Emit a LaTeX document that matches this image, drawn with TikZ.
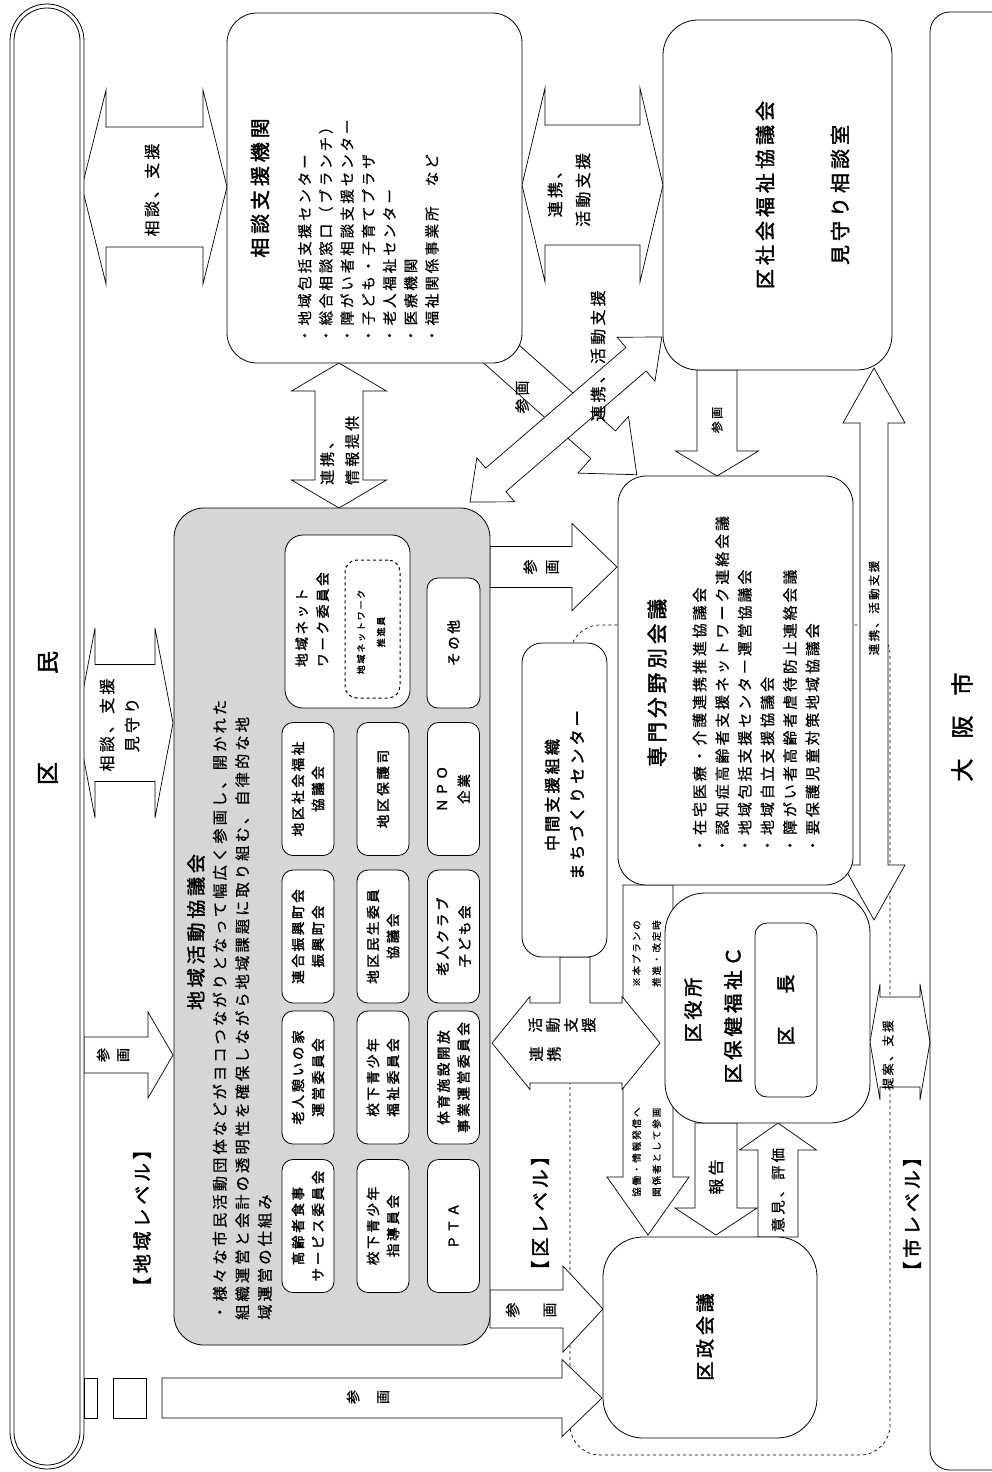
\documentclass[tikz,border=0pt]{standalone}
\usepackage{fontspec}
\usepackage{graphicx}
\setmainfont{Noto Sans CJK JP}[LetterSpace=20,FakeBold=0.6]
\newfontfamily\jb{Noto Sans CJK JP}[FakeBold=2,LetterSpace=20]
\newcommand\fsz[2]{\fontsize{#1}{#2}\selectfont}
\newcommand\rc[1]{\rotatebox[origin=c]{90}{#1}}
% double-headed horizontal arrow: x1 x2 yc shaft-half head-half head-length
\newcommand\DAH[6]{\draw[blk] (#1,#3) -- ({#1+#6},{#3-#5}) -- ({#1+#6},{#3-#4}) -- ({#2-#6},{#3-#4}) -- ({#2-#6},{#3-#5}) -- (#2,#3) -- ({#2-#6},{#3+#5}) -- ({#2-#6},{#3+#4}) -- ({#1+#6},{#3+#4}) -- ({#1+#6},{#3+#5}) -- cycle;}
% double-headed vertical arrow: y1 y2 xc sw hw hl
\newcommand\DAV[6]{\draw[blk] (#3,#1) -- ({#3+#5},{#1+#6}) -- ({#3+#4},{#1+#6}) -- ({#3+#4},{#2-#6}) -- ({#3+#5},{#2-#6}) -- (#3,#2) -- ({#3-#5},{#2-#6}) -- ({#3-#4},{#2-#6}) -- ({#3-#4},{#1+#6}) -- ({#3-#5},{#1+#6}) -- cycle;}
% single arrow to the right: xtail xtip yc sw hw hl
\newcommand\SAR[6]{\draw[blk] (#1,{#3-#4}) -- ({#2-#6},{#3-#4}) -- ({#2-#6},{#3-#5}) -- (#2,#3) -- ({#2-#6},{#3+#5}) -- ({#2-#6},{#3+#4}) -- (#1,{#3+#4}) -- cycle;}
% single arrow downwards: ytail ytip xc sw hw hl
\newcommand\SAD[6]{\draw[blk] ({#3-#4},#1) -- ({#3-#4},{#2-#6}) -- ({#3-#5},{#2-#6}) -- (#3,#2) -- ({#3+#5},{#2-#6}) -- ({#3+#4},{#2-#6}) -- ({#3+#4},#1) -- cycle;}
% single arrow upwards: ytail ytip xc sw hw hl
\newcommand\SAU[6]{\draw[blk] ({#3-#4},#1) -- ({#3-#4},{#2+#6}) -- ({#3-#5},{#2+#6}) -- (#3,#2) -- ({#3+#5},{#2+#6}) -- ({#3+#4},{#2+#6}) -- ({#3+#4},#1) -- cycle;}
\begin{document}
\begin{tikzpicture}[x=1pt,y=-1pt,
  box/.style={draw, line width=0.8pt, fill=white, rounded corners=#1, inner sep=0pt},
  blk/.style={draw, line width=0.7pt, fill=white, line join=miter},
  rt/.style={rotate=90, inner sep=0pt},
  sbox/.style={box=11, minimum width=52, minimum height=133},
  sbt/.style={rt, align=center, font=\jb\fsz{13.5}{20}},
  lbl/.style={rt, align=center},
]
\useasboundingbox (0,0) rectangle (992,1472);
\fill[white] (0,0) rectangle (992,1472);

% dashed ward-level region
\draw[dashed, line width=0.7pt, rounded corners=30] (570,625) rectangle (890,1455);

% ---------- block arrows ----------
\DAH{82}{227}{187}{60}{97}{24}          % 相談、支援
\DAH{522}{663}{185}{60}{97}{23}         % 連携、活動支援
\DAV{363}{508}{339}{24}{47.5}{28}       % 連携、情報提供
\SAD{370}{476}{717}{20}{41.5}{25}       % 参画 (社協->専門)
\DAV{368}{920}{874}{14}{31}{55}         % 連携、活動支援 (市)
\DAH{77}{173}{723}{58.5}{95}{18}        % 相談、支援 見守り
\SAR{84}{173}{1055}{18}{43}{25}         % 参画
\SAR{162}{602}{1398}{20}{38.5}{40}      % 参画 (区民->区政会議)
\SAR{490}{617}{567}{20.5}{43.5}{45}     % 参画 (地域->専門)
\SAR{490}{603}{1309}{19}{43}{40}        % 参画 (地域->区政会議)
\begin{scope}[shift={(480,335)}, rotate=-41.7]
  \SAR{0}{210}{0}{18.5}{38}{45}
\end{scope}
\begin{scope}[shift={(470,502)}, rotate=40.7]
  \DAH{0}{253}{0}{15.5}{29}{34}
\end{scope}
\SAD{885}{1235}{648}{25}{41}{58}        % 本プラン
\SAD{1123}{1235}{716}{21}{41}{27}       % 報告
\SAU{1237}{1123}{778}{20}{38.5}{27}     % 意見、評価
% T-shaped arrow from 中間支援組織
\draw[blk] (492,1043) -- (530,996.5) -- (530,1003) -- (560,1003) -- (560,957) -- (590,957) -- (590,1003) -- (622,1003) -- (622,996.5) -- (660,1043) -- (622,1089.5) -- (622,1083) -- (530,1083) -- (530,1089.5) -- cycle;
\DAH{870}{930}{1042}{45}{58}{10}        % 提案、支援

% ---------- boxes ----------
\node[box=30, minimum width=295, minimum height=350] (soudan) at (374.5,188) {};
\node[box=35, minimum width=229, minimum height=350] (shakyo) at (777.5,195) {};
\node[box=30, minimum width=316, minimum height=837, fill=black!16] (chiiki) at (332,926.5) {};
\node[box=28, minimum width=235, minimum height=409] (senmon) at (735.5,680.5) {};
\node[box=20, minimum width=85, minimum height=314] (chukan) at (564.5,800) {};
\node[box=40, minimum width=205, minimum height=230] (kuyaku) at (767.5,1008) {};
\node[box=12, minimum width=62, minimum height=174] (kucho) at (786,1010) {};
\node[box=40, minimum width=214, minimum height=201] (kusei) at (710,1337.5) {};

% 区民 bar (double line)
\draw[line width=0.8pt, fill=white, rounded corners=37] (10,4) rectangle (84,1469);
\draw[line width=0.8pt, rounded corners=33] (14,8) rectangle (80,1465);
\draw[line width=0.7pt, fill=white] (84,1378) rectangle (97,1418);
\draw[line width=0.7pt, fill=white] (113,1378) rectangle (146,1418);
% 大阪市 bar
\draw[line width=0.8pt, rounded corners=20] (992,12) -- (930,12) -- (930,1470) -- (992,1470);

% inner boxes of 地域活動協議会
\node[box=18, minimum width=125, minimum height=173] (net) at (347.5,621.5) {};
\node[box=12, dashed, line width=1pt, minimum width=55, minimum height=138] (netp) at (372.5,629) {};
\node[box=11, minimum width=53, minimum height=130] (sonota) at (453.5,643) {};
\foreach \c/\nm in {308/a, 383/b, 453.5/c}{
  \foreach \r/\rn in {789/2, 936.5/3, 1077.5/4, 1226/5}{
    \node[sbox] (s\nm\rn) at (\c,\r) {};
  }
}

% ---------- texts ----------
\node[rt, font=\jb\fsz{23}{26}] (kumint) at (48,718) {区\hspace{88pt}民};
\node[rt, font=\jb\fsz{23}{26}] (osakat) at (962,727) {大\hspace{20pt}阪\hspace{20pt}市};

\node[rt, font=\jb\fsz{19.9}{24}] at (260,188) {相談支援機関};
\node[rt, anchor=north west, align=left, font=\fsz{14.5}{21.2}] at (297.75,343) {・地域包括支援センター\\・総合相談窓口（ブランチ）\\・障がい者相談支援センター\\・子ども・子育てプラザ\\・老人福祉センター\\・医療機関\\・福祉関係事業所　など};

\node[rt, font=\jb\fsz{20}{24}] at (765,195) {区社会福祉協議会};
\node[rt, font=\jb\fsz{20}{24}] at (840,195) {見守り相談室};

\node[rt, font=\jb\fsz{19}{24}] at (196,932) {地域活動協議会};
\node[rt, anchor=north west, align=left, font=\fsz{15.3}{22.5}] at (212.5,1320) {・様々な市民活動団体などがヨコつながりとなって幅広く参画し、開かれた\\組織運営と会計の透明性を確保しながら地域課題に取り組む、自律的な地\\域運営の仕組み};

\node[rt, anchor=north west, align=left, font=\jb\fsz{13.5}{21}] at (295.25,667) {地域ネット\\ワーク委員会};
\node[rt, align=center, font=\jb\fsz{9}{20}] at (371,632) {地域ネットワーク\\推進員};
\node[sbt] at (sonota) {その他};
\node[sbt] at (sa2) {地区社会福祉\\協議会};
\node[sbt] at (sb2) {地区保護司};
\node[sbt, font=\jb\fsz{13.5}{22}] at (sc2) {ＮＰＯ\\企業};
\node[sbt] at (sa3) {連合振興町会\\振興町会};
\node[sbt] at (sb3) {地区民生委員\\協議会};
\node[sbt, font=\jb\fsz{13.5}{22}] at (sc3) {老人クラブ\\子ども会};
\node[sbt] at (sa4) {老人憩いの家\\運営委員会};
\node[sbt] at (sb4) {校下青少年\\福祉委員会};
\node[sbt] at (sc4) {体育施設開放\\事業運営委員会};
\node[sbt] at (sa5) {高齢者食事\\サービス委員会};
\node[sbt] at (sb5) {校下青少年\\指導員会};
\node[sbt] at (sc5) {ＰＴＡ};

\node[rt, font=\jb\fsz{20.5}{24}] at (657,683) {専門分野別会議};
\node[rt, anchor=north west, align=left, font=\fsz{14.9}{22.6}] at (692.5,853) {・在宅医療・介護連携推進協議会\\・認知症高齢者支援ネットワーク連絡会議\\・地域包括支援センター運営協議会\\・地域自立支援協議会\\・障がい者高齢者虐待防止連絡会議\\・要保護児童対策地域協議会};

\node[rt, align=center, font=\jb\fsz{16}{25}] at (564.5,795) {中間支援組織\\まちづくりセンター};

\node[rt, font=\jb\fsz{19}{24}] at (693,1010) {区役所};
\node[rt, font=\jb\fsz{19.5}{24}] at (733,1015) {区保健福祉Ｃ};
\node[rt, font=\jb\fsz{19}{24}] at (kucho) {区\hspace{33pt}長};
\node[rt, font=\jb\fsz{19}{24}] at (705,1337) {区政会議};

\node[rt, font=\jb\fsz{19}{24}] at (142,1218) {【地域レベル】};
\node[rt, font=\jb\fsz{19}{24}] at (540,1213) {【区レベル】};
\node[rt, font=\jb\fsz{19}{24}] at (912,1214) {【市レベル】};

% arrow labels
\node[lbl, font=\fsz{16}{24}] at (152,190) {相談、支援};
\node[lbl, font=\fsz{16}{28}] at (569,190) {連携、\\活動支援};
\node[rt, anchor=north west, align=left, font=\fsz{15}{25}] at (320,485) {連携、\\情報提供};
\node[lbl, font=\fsz{12}{14}] at (717,420) {参画};
\node[lbl, font=\fsz{11.5}{14}] at (874,608) {連携、活動支援};
\node[lbl, font=\fsz{16}{25}] at (119.5,725) {相談、支援\\見守り};
\node[lbl, font=\fsz{14}{20}] at (113,1055) {参\\画};
\node[lbl, font=\fsz{14}{30}] at (368,1397) {参\\画};
\node[lbl, font=\fsz{15}{22}] at (541,567) {参\\画};
\node[lbl, font=\fsz{15}{37}] at (531,1310) {参\\画};
\node[lbl, font=\fsz{15}{18}] at (522,397) {参画};
\node[lbl, font=\fsz{16}{18}] at (598,356) {連携、活動支援};
\node[lbl, font=\fsz{16}{18}] at (716,1177) {報告};
\node[lbl, font=\fsz{14.5}{18}] at (778,1190) {意見、評価};
\node[rt, anchor=north west, align=left, font=\fsz{9.5}{20}] at (632,987) {※本プランの\\推進・改定時};
\node[rt, anchor=north west, align=left, font=\fsz{9.5}{20}] at (632,1197) {協働・情報発信へ\\関係者として参画};
\node[inner sep=0pt, font=\fsz{15}{18}] at (562,1025) {\rc{活}\hspace{4pt}\rc{動}\hspace{4pt}\rc{支}\hspace{4pt}\rc{援}};
\node[inner sep=0pt, font=\fsz{15}{18}] at (545,1054) {\rc{連}\hspace{4pt}\rc{携}};
\node[lbl, font=\fsz{12}{14}] at (888,1055) {提案、支援};
\end{tikzpicture}
\end{document}
